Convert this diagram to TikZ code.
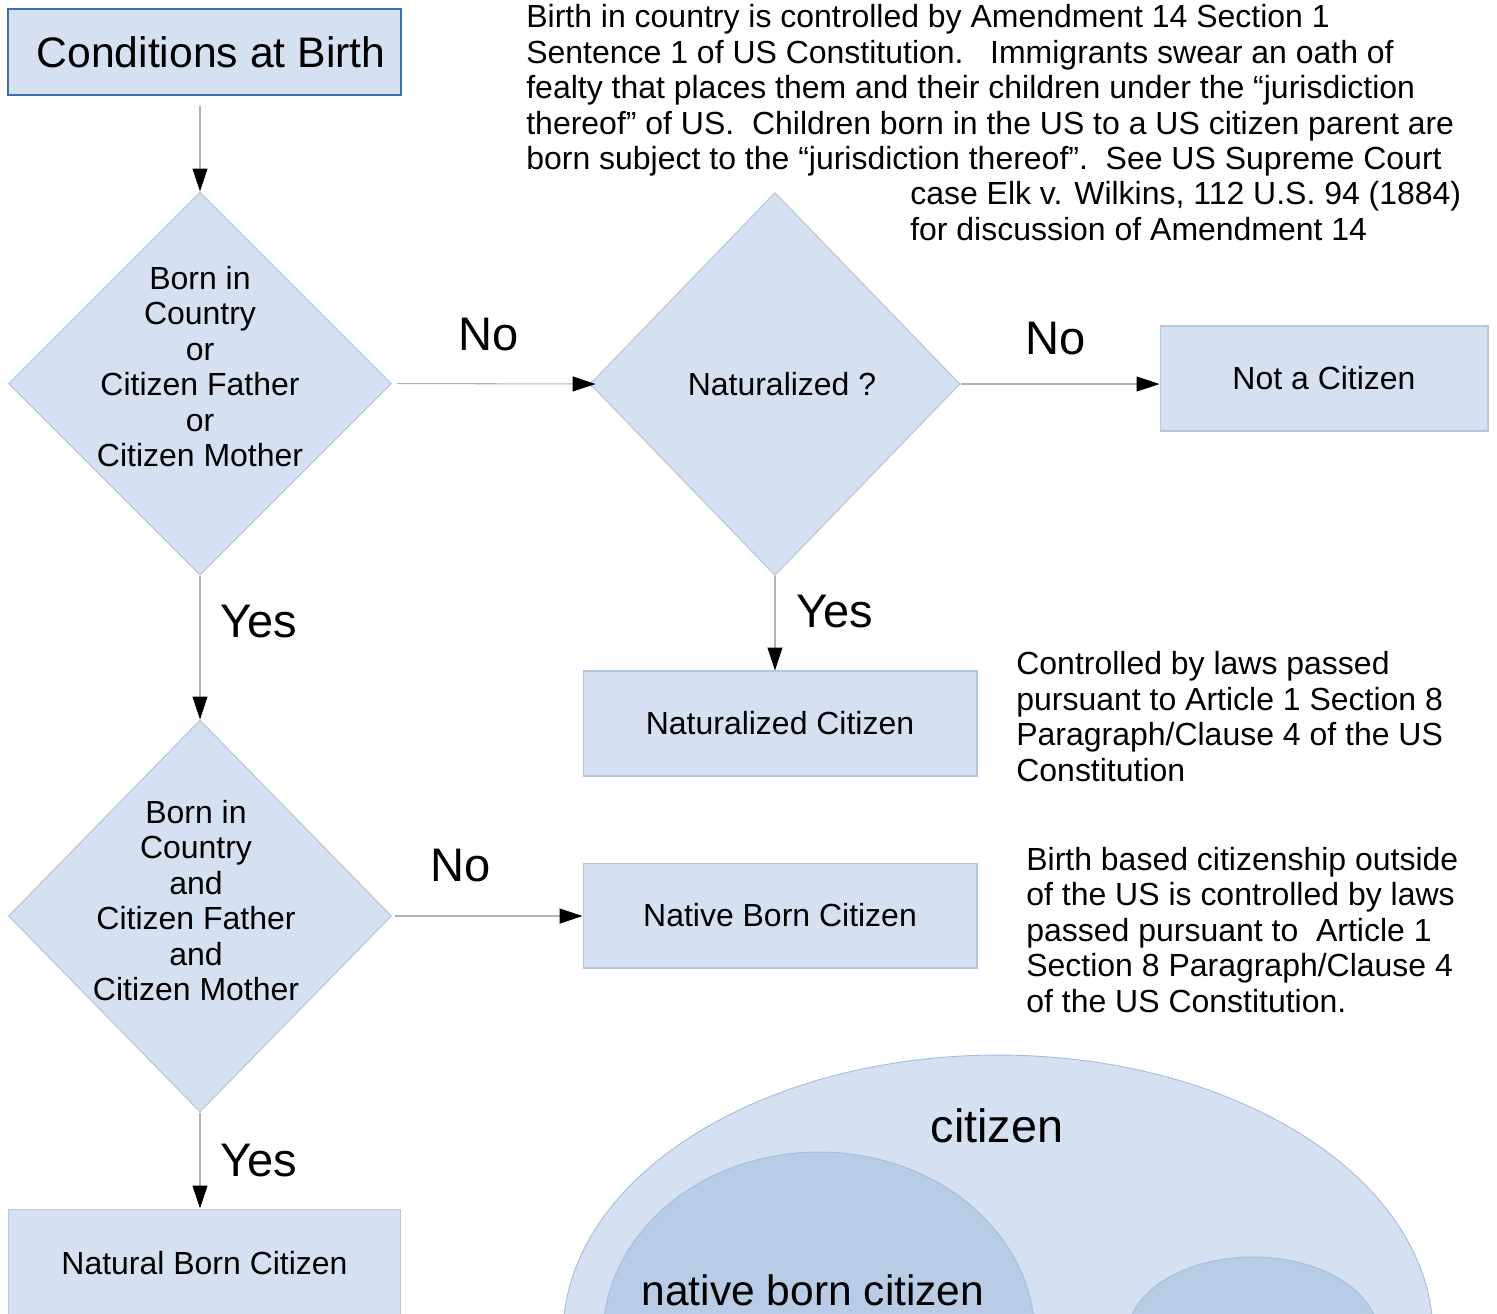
\documentclass[tikz,border=0pt]{standalone}
\usepackage{fontspec}
\setmainfont{Liberation Sans}
\usepackage{xcolor}
\usepackage{tikz}
\usetikzlibrary{positioning,quotes,shapes.geometric,arrows.meta}
\definecolor{boxfill}{HTML}{D5E1F1}
\definecolor{setfill}{HTML}{B8CCE5}
\definecolor{boxline}{HTML}{B4C7DC}
\definecolor{setline}{HTML}{A3BCDD}
\definecolor{titleline}{HTML}{3F6DB5}
\definecolor{connline}{HTML}{B3B3B3}
\newcommand{\bodyfont}{\fontsize{18.2pt}{20.2pt}\selectfont}
\newcommand{\answerfont}{\fontsize{26.8pt}{30pt}\selectfont}
\newcommand{\titlefont}{\fontsize{24.3pt}{28pt}\selectfont}
\tikzstyle{start}=[rectangle, fill=boxfill, draw=titleline, line width=0.8pt, minimum width=7.86cm, minimum height=1.72cm, font=\titlefont]
\tikzstyle{result}=[rectangle, fill=boxfill, draw=boxline, line width=0.6pt, minimum width=7.88cm, minimum height=2.1cm, font=\bodyfont]
\tikzstyle{decision}=[diamond, fill=boxfill, draw=boxline, line width=0.6pt, inner sep=0pt]
\tikzstyle{dtext}=[align=center, font=\bodyfont, inner sep=0pt]
\tikzstyle{flow}=[draw=connline, line width=0.6pt, -{Triangle[length=0.46cm, width=0.3cm, color=black]}]
\tikzstyle{answer}=[font=\answerfont, inner sep=0pt]
\tikzstyle{note}=[align=left, font=\bodyfont, inner sep=0pt, anchor=north west]
\tikzstyle{setset}=[fill=boxfill, draw=setline, line width=0.5pt]
\tikzstyle{subset}=[fill=setfill, draw=setline, line width=0.5pt]
\tikzstyle{setname}=[inner sep=0pt]

\begin{document}
\begin{tikzpicture}[x=0.02cm, y=-0.02cm]
        \useasboundingbox (0,0) rectangle (1497,1313);

        %Sets
        \begin{scope}
            \clip (0,0) rectangle (1497,1313);
            \draw [style=setset] (998,1335) ellipse [x radius=8.7cm, y radius=5.6cm];
            \draw [style=subset] (819,1337) ellipse [x radius=4.32cm, y radius=3.7cm];
            \draw [style=subset] (1253,1335) ellipse [x radius=2.5cm, y radius=1.56cm];
        \end{scope}
        \node [style=setname, font=\fontsize{26.6pt}{30pt}\selectfont] (CitSet) at (997,1126) {citizen};
        \node [style=setname, font=\fontsize{24.2pt}{28pt}\selectfont] (NativeSet) at (813,1290) {native born citizen};

        %Flow chart
        \node [style=start] (Birth) at (204.5,52) {\hspace*{0.26cm}Conditions at Birth};
        \node [style=decision, minimum width=7.66cm, minimum height=7.66cm, label={[dtext, yshift=0.34cm]center:Born in\\Country\\or\\Citizen Father\\or\\Citizen Mother}] (Q1) at (200,383.5) {};
        \node [style=decision, minimum width=7.4cm, minimum height=7.66cm, label={[dtext, xshift=0.14cm]center:Naturalized ?}] (Q2) at (775,384) {};
        \node [style=result, minimum width=6.56cm] (NotCit) at (1324,378.5) {Not a Citizen};
        \node [style=result] (NatzCit) at (780,723.5) {Naturalized Citizen};
        \node [style=decision, minimum width=7.66cm, minimum height=7.84cm, label={[dtext, xshift=-0.08cm, yshift=0.31cm]center:Born in\\Country\\and\\Citizen Father\\and\\Citizen Mother}] (Q3) at (200,916) {};
        \node [style=result] (NativeCit) at (780,915.5) {Native Born Citizen};
        \node [style=result, minimum width=7.86cm, minimum height=2.16cm] (NaturalCit) at (204.5,1263) {Natural Born Citizen};

        \draw [style=flow, shorten <=0.2cm] (Birth.south -| Q1.north) -- (Q1.north);
        \draw [style=flow, shorten <=0.1cm, shorten >=-0.12cm] (Q1.east) -- node[answer, pos=.49, above=0.65cm] {No} (Q2.west);
        \draw [style=flow] (Q2.east) -- node[answer, pos=.48, above=0.57cm] {No} (Q2.east -| NotCit.west);
        \draw [style=flow] (Q2.south) -- node[answer, pos=.38, right=0.42cm] {Yes} (Q2.south |- NatzCit.north);
        \draw [style=flow] (Q1.south) -- node[answer, pos=.32, right=0.4cm] {Yes} (Q3.north);
        \draw [style=flow, shorten <=0.06cm] (Q3.east) -- node[answer, pos=.36, above=0.67cm] {No} (Q3.east -| NativeCit.west);
        \draw [style=flow] (Q3.south) -- node[answer, pos=.5, right=0.4cm] {Yes} (Q3.south |- NaturalCit.north);

        %Notes
        \node [style=note] (Amend) at (526,4) {Birth in country is controlled by Amendment 14 Section 1\\
            Sentence 1 of US Constitution.\ \ \ Immigrants swear an oath of\\
            fealty that places them and their children under the “jurisdiction\\
            thereof” of US.\ \ Children born in the US to a US citizen parent are\\
            born subject to the “jurisdiction thereof”.\ \ See US Supreme Court\\
            \hspace*{7.68cm}case Elk v. Wilkins, 112 U.S. 94 (1884)\\
            \hspace*{7.68cm}for discussion of Amendment 14};
        \node [style=note] (ArtNatz) at (1016,651) {Controlled by laws passed\\
            pursuant to Article 1 Section 8\\
            Paragraph/Clause 4 of the US\\
            Constitution};
        \node [style=note] (ArtBirth) at (1026,846.5) {Birth based citizenship outside\\
            of the US is controlled by laws\\
            passed pursuant to\ \ Article 1\\
            Section 8 Paragraph/Clause 4\\
            of the US Constitution.};
    \end{tikzpicture}
\end{document}
